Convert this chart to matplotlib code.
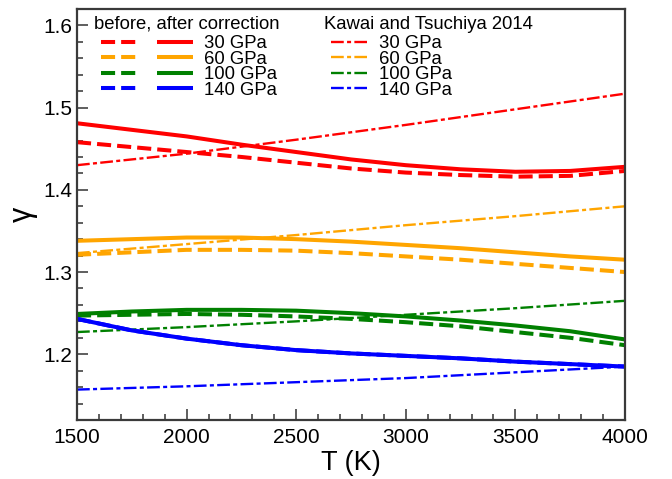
import matplotlib
matplotlib.use("Agg")
import matplotlib.pyplot as plt
from matplotlib.legend_handler import HandlerTuple

plt.rcParams['font.family'] = ['Liberation Sans', 'DejaVu Sans']

# ---- data ----
T = [1500, 1750, 2000, 2250, 2500, 2750, 3000, 3250, 3500, 3750, 4000]
T_kt = [1500, 2000, 2500, 3000, 3500, 4000]
pressures = ["30 GPa", "60 GPa", "100 GPa", "140 GPa"]
colors = ["#ff0000", "#ffa500", "#008000", "#0000ff"]

before_30 = [1.458, 1.452, 1.446, 1.440, 1.433, 1.426, 1.421, 1.418, 1.416, 1.417, 1.423]
after_30 = [1.481, 1.473, 1.465, 1.455, 1.446, 1.437, 1.430, 1.425, 1.422, 1.423, 1.428]
kt_30 = [1.430, 1.444, 1.461, 1.479, 1.498, 1.517]

before_60 = [1.321, 1.324, 1.327, 1.327, 1.326, 1.323, 1.319, 1.315, 1.310, 1.305, 1.300]
after_60 = [1.338, 1.340, 1.342, 1.342, 1.340, 1.337, 1.333, 1.329, 1.324, 1.319, 1.315]
kt_60 = [1.323, 1.334, 1.345, 1.357, 1.368, 1.380]

before_100 = [1.247, 1.248, 1.249, 1.248, 1.246, 1.243, 1.239, 1.234, 1.227, 1.220, 1.211]
after_100 = [1.249, 1.252, 1.254, 1.254, 1.253, 1.250, 1.246, 1.241, 1.235, 1.228, 1.218]
kt_100 = [1.227, 1.233, 1.240, 1.248, 1.256, 1.265]

before_140 = [1.243, 1.229, 1.219, 1.211, 1.205, 1.201, 1.198, 1.195, 1.191, 1.188, 1.185]
after_140 = [1.243, 1.229, 1.219, 1.211, 1.205, 1.201, 1.198, 1.195, 1.191, 1.188, 1.185]
kt_140 = [1.157, 1.161, 1.166, 1.171, 1.178, 1.185]

before = [before_30, before_60, before_100, before_140]
after = [after_30, after_60, after_100, after_140]
kawai = [kt_30, kt_60, kt_100, kt_140]

xticks = [1500, 2000, 2500, 3000, 3500, 4000]
yticks = [1.2, 1.3, 1.4, 1.5, 1.6]

header_1 = "before, after correction"
header_2 = "Kawai and Tsuchiya 2014"

# ---- figure ----
W, H = 672, 479
fig = plt.figure(figsize=(W / 100, H / 100), dpi=100)
ax = fig.add_axes([77 / W, 1 - 420 / H, (625 - 77) / W, (420 - 9) / H])

dash_handles, solid_handles, kt_handles = [], [], []
for c, b, a, k in zip(colors, before, after, kawai):
    hd, = ax.plot(T, b, color=c, lw=2.9, dashes=(3.5, 1.5), dash_capstyle='butt')
    hs, = ax.plot(T, a, color=c, lw=2.9, solid_capstyle='butt')
    hk, = ax.plot(T_kt, k, color=c, lw=1.7, dashes=(5.4, 1.4, 1.7, 1.4), dash_capstyle='butt')
    dash_handles.append(hd)
    solid_handles.append(hs)
    kt_handles.append(hk)

ax.set_xlim(1500, 4000)
ax.set_ylim(1.12, 1.62)
ax.set_xticks(xticks)
ax.set_yticks(yticks)
ax.set_xticks(range(1500, 4001, 100), minor=True)
ax.set_yticks([1.12 + 0.02 * i for i in range(26)], minor=True)
ax.tick_params(which='both', direction='in', top=False, right=False, labelsize=15,
               width=1.1, color='#333333')
ax.tick_params(which='major', length=8)
ax.tick_params(which='minor', length=4)
ax.tick_params(axis='x', pad=6)
for s in ax.spines.values():
    s.set_linewidth(1.6)
    s.set_color('#3a3a3a')

ax.set_xlabel("T (K)", fontsize=19.5, labelpad=2)
ax.set_ylabel("γ", fontsize=22)
ax.yaxis.set_label_coords(-0.072, 0.5)

fs = 13.3
# legend headers
ax.text(94 / W, 1 - 28.8 / H, header_1, transform=fig.transFigure, fontsize=fs,
        ha='left', va='baseline')
ax.text(324.3 / W, 1 - 28.8 / H, header_2, transform=fig.transFigure, fontsize=fs,
        ha='left', va='baseline')

leg1 = ax.legend([(d, s) for d, s in zip(dash_handles, solid_handles)], pressures,
                 handler_map={tuple: HandlerTuple(ndivide=None, pad=1.08)},
                 loc='upper left', bbox_to_anchor=(100.7 / W, 1 - 35.0 / H),
                 bbox_transform=fig.transFigure, frameon=False, fontsize=fs,
                 handlelength=4.98, handletextpad=0.61, labelspacing=-0.08,
                 borderaxespad=0, borderpad=0)
ax.add_artist(leg1)
leg2 = ax.legend(kt_handles, pressures,
                 loc='upper left', bbox_to_anchor=(330.7 / W, 1 - 35.0 / H),
                 bbox_transform=fig.transFigure, frameon=False, fontsize=fs,
                 handlelength=1.95, handletextpad=0.67, labelspacing=-0.08,
                 borderaxespad=0, borderpad=0)

fig.savefig("out.png", dpi=100)
